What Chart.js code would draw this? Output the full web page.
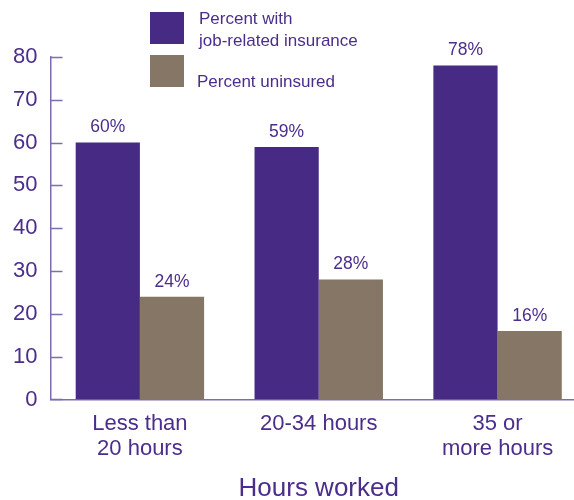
<!DOCTYPE html>
<html><head><meta charset="utf-8">
<script src="https://cdn.jsdelivr.net/npm/chart.js@4"></script>
<style>
html,body{margin:0;padding:0;overflow:hidden;background:#fff;width:574px;height:500px;}
#wrap{position:absolute;left:0;top:0;width:587px;height:500px;}
.lg{position:absolute;font-family:"Liberation Sans",Arial,sans-serif;font-size:17px;color:#4b2d8c;line-height:22px;}
.sw{position:absolute;width:34px;height:32px;}
</style></head>
<body>
<div id="wrap"><canvas id="c" width="587" height="500"></canvas></div>
<div class="sw" id="sw0" style="left:150px;top:12px;"></div>
<div class="lg" id="lg0" style="left:199px;top:8px;"></div>
<div class="sw" id="sw1" style="left:150px;top:55px;"></div>
<div class="lg" id="lg1" style="left:197px;top:71px;"></div>
<script>
const categories = [["Less than","20 hours"],"20-34 hours",["35 or","more hours"]];
const seriesNames = [["Percent with","job-related insurance"],["Percent uninsured"]];
const insured = [60, 59, 78];
const uninsured = [24, 28, 16];
const yTicks = [0,10,20,30,40,50,60,70,80];
const colors = ["#472a84","#857665"];
const textColor = "#4b2d8c";
const axisColor = "#7f6cae";

seriesNames.forEach((n,i)=>{
  document.getElementById("lg"+i).innerHTML = n.join("<br>");
  document.getElementById("sw"+i).style.background = colors[i];
});

const font = "Liberation Sans, Arial, sans-serif";

const overlay = {
  id:"overlay",
  afterDatasetsDraw(chart){
    const ctx = chart.ctx;
    const y = chart.scales.y;
    const area = chart.chartArea;
    ctx.save();
    ctx.strokeStyle = axisColor;
    ctx.lineWidth = 1.5;
    yTicks.forEach(v=>{
      const py = Math.round(y.getPixelForValue(v))+0.5;
      ctx.beginPath();
      ctx.moveTo(area.left, py);
      ctx.lineTo(area.left+12, py);
      ctx.stroke();
    });
    ctx.fillStyle = textColor;
    ctx.font = "17.5px " + font;
    ctx.textAlign = "center";
    ctx.textBaseline = "middle";
    chart.data.datasets.forEach((ds,di)=>{
      chart.getDatasetMeta(di).data.forEach((bar,i)=>{
        ctx.fillText(ds.data[i] + "%", bar.x, bar.y - 15);
      });
    });
    ctx.restore();
  }
};

new Chart(document.getElementById("c"),{
  type:"bar",
  data:{
    labels:categories,
    datasets:[
      {label:seriesNames[0].join(" "),data:insured,backgroundColor:colors[0],barPercentage:1,categoryPercentage:0.718},
      {label:seriesNames[1].join(" "),data:uninsured,backgroundColor:colors[1],barPercentage:1,categoryPercentage:0.718}
    ]
  },
  options:{
    responsive:false,
    animation:false,
    devicePixelRatio:1,
    layout:{padding:{top:57,left:0,right:0,bottom:-3}},
    plugins:{legend:{display:false},tooltip:{enabled:false}},
    scales:{
      x:{
        grid:{display:false,drawTicks:false},
        border:{display:true,color:axisColor,width:1.5},
        ticks:{color:textColor,font:{family:font,size:22,lineHeight:1.18},padding:11,maxRotation:0},
        title:{display:true,text:"Hours worked",color:textColor,font:{family:font,size:26,lineHeight:1.1},padding:{top:1,bottom:0}}
      },
      y:{
        min:0,max:80,
        afterBuildTicks(s){ s.ticks = yTicks.map(v=>({value:v})); },
        grid:{display:false,drawTicks:false},
        border:{display:true,color:axisColor,width:1.5},
        ticks:{color:textColor,font:{family:font,size:22},padding:13}
      }
    }
  },
  plugins:[overlay]
});
</script>
</body></html>
